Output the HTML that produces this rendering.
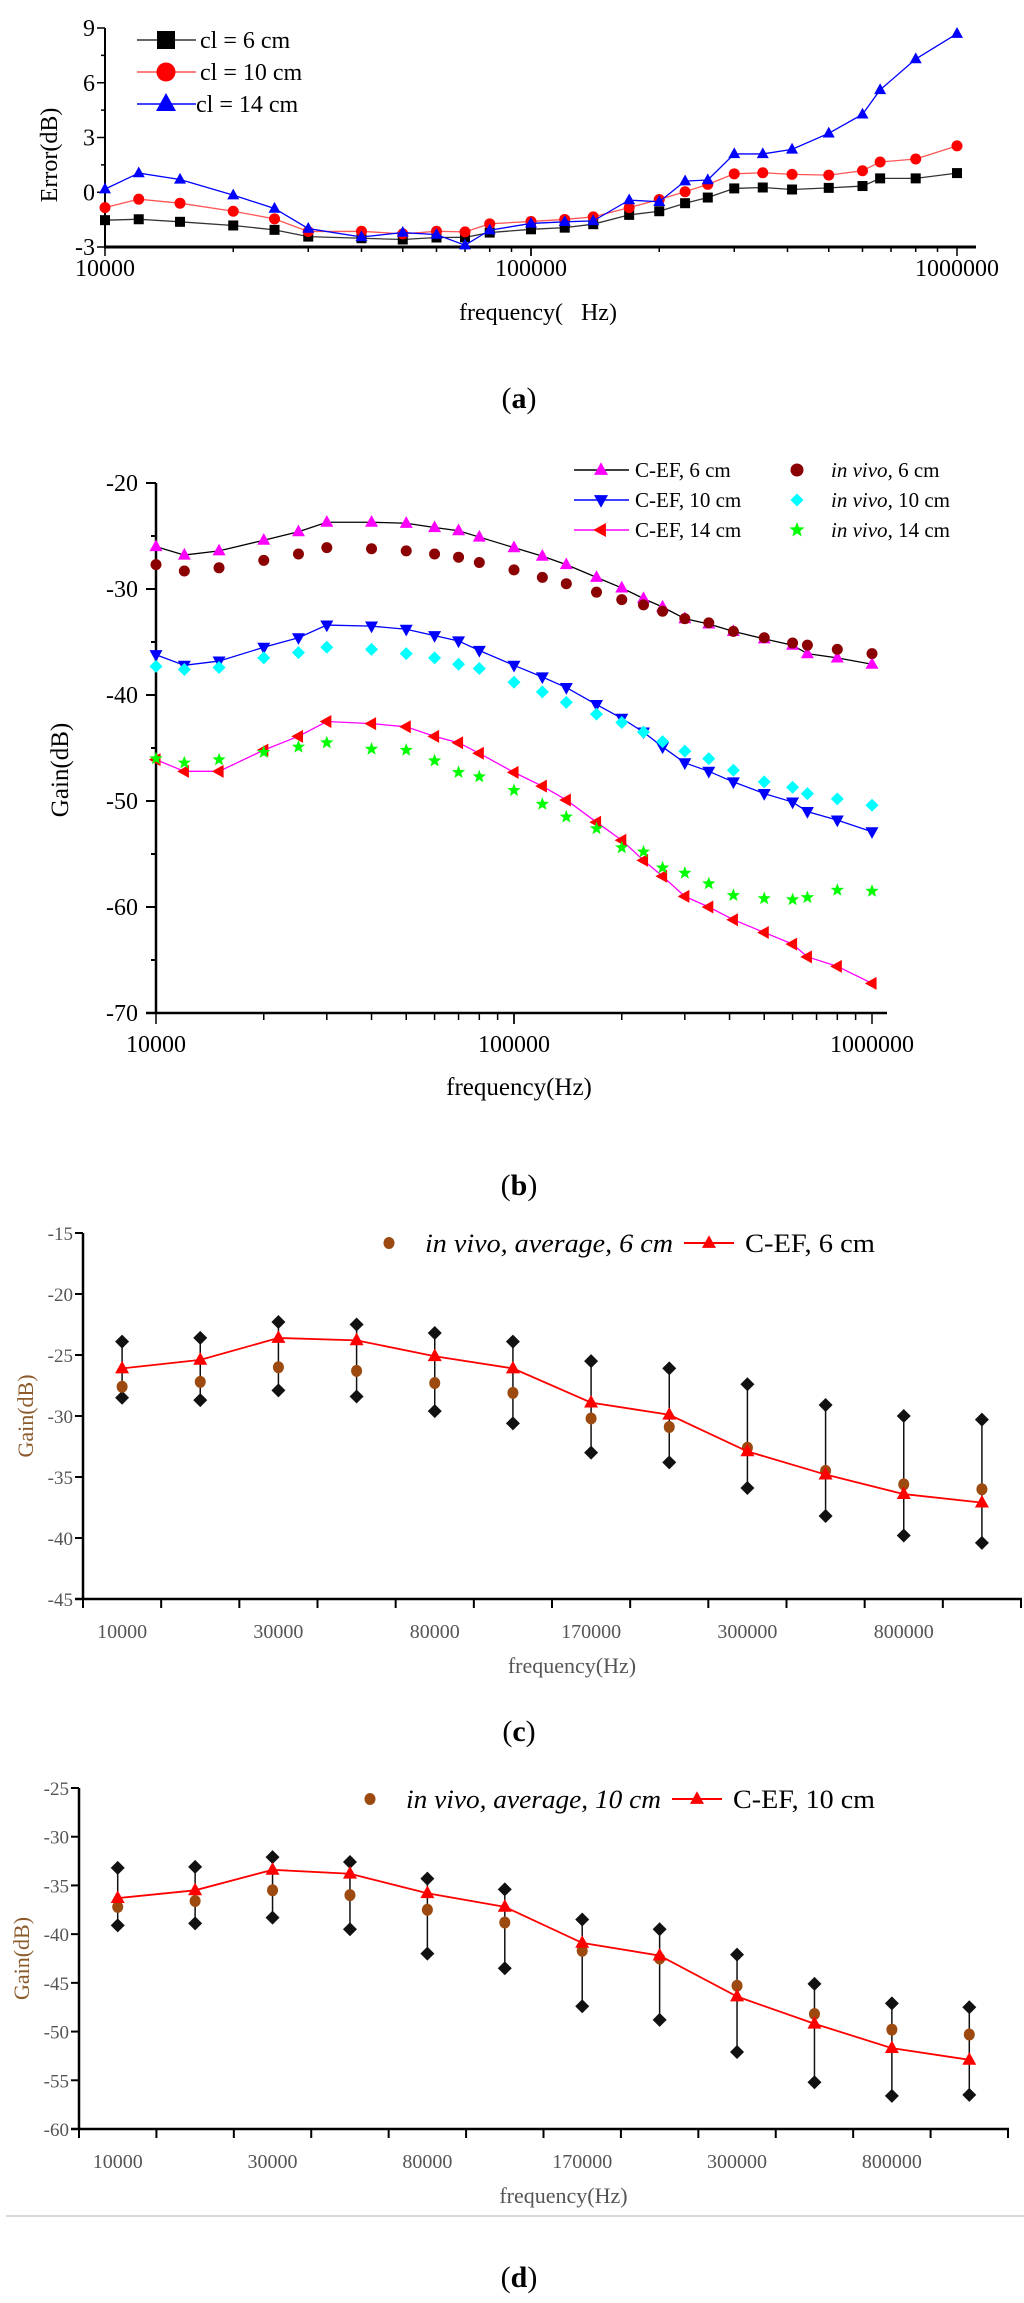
<!DOCTYPE html>
<html><head><meta charset="utf-8">
<style>
html,body{margin:0;padding:0;background:#fff;}
svg{display:block;}
text{font-family:"Liberation Serif",serif;}
</style></head>
<body>
<svg id="fig" xmlns="http://www.w3.org/2000/svg" width="1024" height="2303" viewBox="0 0 1024 2303">
<g id="pa"></g>
<g id="pb"></g>
<g id="pc"></g>
<g id="pd"></g>
<text x="519" y="408" font-size="30" text-anchor="middle">(<tspan font-weight="bold">a</tspan>)</text>
<text x="519" y="1195" font-size="30" text-anchor="middle">(<tspan font-weight="bold">b</tspan>)</text>
<text x="519" y="1741" font-size="30" text-anchor="middle">(<tspan font-weight="bold">c</tspan>)</text>
<text x="519" y="2287" font-size="30" text-anchor="middle">(<tspan font-weight="bold">d</tspan>)</text>
<line x1="6" y1="2216" x2="1024" y2="2216" stroke="#d9d9d9" stroke-width="2"/>
</svg>
<script>
// ---------- data ----------
const freqs = [10000,12000,15000,20000,25000,30000,40000,50000,60000,70000,80000,100000,120000,140000,170000,200000,230000,260000,300000,350000,410000,500000,600000,660000,800000,1000000];
const errCl6 = [-1.53,-1.48,-1.62,-1.82,-2.06,-2.43,-2.52,-2.59,-2.48,-2.47,-2.21,-2.03,-1.94,-1.75,-1.24,-1.04,-0.60,-0.29,0.21,0.26,0.15,0.24,0.34,0.76,0.76,1.05];
const errCl10 = [-0.84,-0.38,-0.60,-1.04,-1.46,-2.15,-2.14,-2.28,-2.14,-2.17,-1.73,-1.60,-1.49,-1.35,-0.84,-0.40,0.03,0.43,1.01,1.07,0.98,0.94,1.18,1.66,1.82,2.54];
const errCl14 = [0.17,1.05,0.70,-0.16,-0.89,-1.99,-2.45,-2.21,-2.32,-2.90,-2.08,-1.71,-1.62,-1.57,-0.43,-0.52,0.61,0.67,2.10,2.10,2.35,3.23,4.27,5.61,7.30,8.69];
const aYTicks = [-3,0,3,6,9];
const logTickLabels = ["10000","100000","1000000"];

const cef6 = [-26.0,-26.8,-26.4,-25.4,-24.6,-23.7,-23.7,-23.8,-24.2,-24.5,-25.1,-26.1,-26.9,-27.7,-28.9,-29.9,-30.9,-31.7,-32.8,-33.3,-34.0,-34.7,-35.3,-36.1,-36.5,-37.1];
const vivo6 = [-27.7,-28.3,-28.0,-27.3,-26.7,-26.1,-26.2,-26.4,-26.7,-27.0,-27.5,-28.2,-28.9,-29.5,-30.3,-31.0,-31.5,-32.1,-32.8,-33.2,-34.0,-34.6,-35.1,-35.3,-35.7,-36.1];
const cef10 = [-36.2,-37.2,-36.8,-35.5,-34.6,-33.4,-33.5,-33.8,-34.4,-34.9,-35.8,-37.2,-38.3,-39.3,-40.9,-42.2,-43.5,-44.9,-46.4,-47.2,-48.2,-49.3,-50.1,-51.0,-51.8,-52.9];
const vivo10 = [-37.3,-37.6,-37.4,-36.5,-36.0,-35.5,-35.7,-36.1,-36.5,-37.1,-37.5,-38.8,-39.7,-40.7,-41.8,-42.6,-43.5,-44.4,-45.3,-46.0,-47.1,-48.2,-48.7,-49.3,-49.8,-50.4];
const cef14 = [-46.1,-47.2,-47.2,-45.2,-43.9,-42.5,-42.7,-43.0,-43.9,-44.5,-45.5,-47.3,-48.6,-49.9,-52.0,-53.7,-55.6,-57.1,-59.0,-60.0,-61.2,-62.4,-63.5,-64.7,-65.6,-67.2];
const vivo14 = [-46.0,-46.4,-46.1,-45.4,-44.9,-44.5,-45.1,-45.2,-46.2,-47.3,-47.7,-49.0,-50.3,-51.5,-52.6,-54.4,-54.8,-56.3,-56.8,-57.8,-58.9,-59.2,-59.3,-59.1,-58.4,-58.5];
const bYTicks = [-70,-60,-50,-40,-30,-20];

const catLabels = ["10000","20000","30000","50000","80000","100000","170000","200000","300000","500000","800000","1000000"];
const cCef = [-26.1,-25.4,-23.6,-23.8,-25.1,-26.1,-28.9,-29.9,-32.9,-34.8,-36.4,-37.1];
const cVivo = [-27.6,-27.2,-26.0,-26.3,-27.3,-28.1,-30.2,-30.9,-32.6,-34.5,-35.6,-36.0];
const cUpper = [-23.9,-23.6,-22.3,-22.5,-23.2,-23.9,-25.5,-26.1,-27.4,-29.1,-30.0,-30.3];
const cLower = [-28.5,-28.7,-27.9,-28.4,-29.6,-30.6,-33.0,-33.8,-35.9,-38.2,-39.8,-40.4];
const cYTicks = [-45,-40,-35,-30,-25,-20,-15];

const dCef = [-36.3,-35.5,-33.4,-33.8,-35.8,-37.2,-40.9,-42.2,-46.4,-49.2,-51.7,-52.9];
const dVivo = [-37.2,-36.6,-35.5,-36.0,-37.5,-38.8,-41.7,-42.5,-45.3,-48.2,-49.8,-50.3];
const dUpper = [-33.2,-33.1,-32.1,-32.6,-34.3,-35.4,-38.5,-39.5,-42.1,-45.1,-47.1,-47.5];
const dLower = [-39.1,-38.9,-38.3,-39.5,-42.0,-43.5,-47.4,-48.8,-52.1,-55.2,-56.6,-56.5];
const dYTicks = [-60,-55,-50,-45,-40,-35,-30,-25];

// ---------- helpers ----------
const NS = "http://www.w3.org/2000/svg";
function mk(tag, attrs, parent){ const e=document.createElementNS(NS,tag); for(const k in attrs) e.setAttribute(k,attrs[k]); parent.appendChild(e); return e; }
function txt(s, attrs, parent){ const e=mk("text",attrs,parent); e.textContent=s; return e; }
function marker(shape, x, y, s, fill, parent){
  let d;
  if(shape==="square") d=`M${x-s},${y-s}h${2*s}v${2*s}h${-2*s}Z`;
  else if(shape==="up") d=`M${x},${y-s*1.1}L${x+s},${y+s*0.7}L${x-s},${y+s*0.7}Z`;
  else if(shape==="down") d=`M${x},${y+s*1.1}L${x+s},${y-s*0.7}L${x-s},${y-s*0.7}Z`;
  else if(shape==="left") d=`M${x-s*1.1},${y}L${x+s*0.7},${y-s}L${x+s*0.7},${y+s}Z`;
  else if(shape==="diamond") d=`M${x},${y-s}L${x+s},${y}L${x},${y+s}L${x-s},${y}Z`;
  else if(shape==="star"){ d=""; for(let i=0;i<10;i++){ const r=i%2?s*0.42:s; const a=-Math.PI/2+i*Math.PI/5; d+=(i?"L":"M")+(x+r*Math.cos(a)).toFixed(1)+","+(y+r*Math.sin(a)).toFixed(1);} d+="Z"; }
  if(shape==="circle") return mk("ellipse",{cx:x,cy:y,rx:s,ry:s,fill:fill},parent);
  return mk("path",{d:d,fill:fill},parent);
}
function poly(xs, ys, stroke, w, parent){ return mk("polyline",{points:xs.map((x,i)=>x+","+ys[i]).join(" "),fill:"none",stroke:stroke,"stroke-width":w},parent); }
const L = Math.log10;

// ---------- panel a ----------
(function(){
  const g=document.getElementById("pa");
  const xa=f=>105+(L(f)-4)*426, ya=v=>247-(v+3)*18.25;
  let e=mk("line",{x1:105,y1:28,x2:105,y2:247,stroke:"#000","stroke-width":2},g);
  
  
  e=mk("line",{x1:104,y1:247,x2:976,y2:247,stroke:"#000","stroke-width":3},g);
  
  
  for(let v=-3;v<=9;v+=1.5){ mk("line",{x1:v%3===0?97:101,y1:ya(v),x2:105,y2:ya(v),stroke:"#000","stroke-width":1.5},g); }
  aYTicks.forEach(v=>{ const t=txt(String(v),{x:95,y:ya(v)+8,"font-size":24,"text-anchor":"end"},g);
    
     });
  for(let dec=4;dec<6;dec++) for(let m=1;m<=10;m++){ const x=xa(m*Math.pow(10,dec)); mk("line",{x1:x,y1:247,x2:x,y2:m===1||m===10?256:252,stroke:"#000","stroke-width":1.5},g); }
  logTickLabels.forEach(s=>{ const t=txt(s,{x:xa(+s),y:276,"font-size":24,"text-anchor":"middle"},g);
    
     });
  e=txt("frequency(   Hz)",{x:538,y:320,"font-size":24,"text-anchor":"middle",style:"white-space:pre"},g);
  
  
  e=txt("Error(dB)",{x:0,y:0,"font-size":24,"text-anchor":"middle",transform:"translate(57,155) rotate(-90)"},g);
  
  
  const series=[[errCl6,"#000","#333","square",6,"cl = 6 cm"],[errCl10,"#ff0000","#ff5555","circle",6.5,"cl = 10 cm"],[errCl14,"#0000ff","#0000ff","up",7,"cl = 14 cm"]];
  series.forEach((s,k)=>{
    const ln=poly(freqs.map(xa),s[0].map(ya),s[2],1.3,g);
    
    
    s[0].forEach((v,i)=>{ const m=marker(s[3],xa(freqs[i]),ya(v),s[3]==="up"?6:s[4]-1,s[1],g);
      
       });
    const ly=40+k*32;
    const ll=mk("line",{x1:137,y1:ly,x2:196,y2:ly,stroke:s[2],"stroke-width":1.5},g);
    
    
    const lm=marker(s[3],166,ly,s[3]==="up"?10:s[4]+3,s[1],g);
    
    
    const lt=txt(s[5],{x:k===2?196:200,y:ly+8,"font-size":24},g);
    
    
  });
})();

// ---------- panel b ----------
(function(){
  const g=document.getElementById("pb");
  const xb=f=>156+(L(f)-4)*358, yb=v=>483-(v+20)*10.6;
  let e=mk("line",{x1:156,y1:483,x2:156,y2:1013,stroke:"#000","stroke-width":2.5},g);
  
  
  e=mk("line",{x1:146,y1:1013,x2:887,y2:1013,stroke:"#000","stroke-width":2.5},g);
  
  
  for(let v=-70;v<=-20;v+=5){ mk("line",{x1:v%10===0?146:151,y1:yb(v),x2:156,y2:yb(v),stroke:"#000","stroke-width":2},g); }
  bYTicks.forEach(v=>{ const t=txt(String(v),{x:138,y:yb(v)+8,"font-size":24,"text-anchor":"end"},g);
    
     });
  for(let dec=4;dec<6;dec++) for(let m=1;m<=10;m++){ const x=xb(m*Math.pow(10,dec)); mk("line",{x1:x,y1:1013,x2:x,y2:m===1||m===10?1024:1020,stroke:"#000","stroke-width":1.5},g); }
  logTickLabels.forEach(s=>{ const t=txt(s,{x:xb(+s),y:1052,"font-size":24,"text-anchor":"middle"},g);
    
     });
  e=txt("frequency(Hz)",{x:519,y:1095,"font-size":25,"text-anchor":"middle"},g);
  
  
  e=txt("Gain(dB)",{x:0,y:0,"font-size":25,"text-anchor":"middle",transform:"translate(68,770) rotate(-90)"},g);
  
  
  const lines=[[cef6,"#000","#ff00ff","up","C-EF, 6 cm"],[cef10,"#0000ff","#0000ff","down","C-EF, 10 cm"],[cef14,"#ff00ff","#ff0000","left","C-EF, 14 cm"]];
  const dots=[[vivo6,"#8b0000","circle","6 cm"],[vivo10,"#00ffff","diamond","10 cm"],[vivo14,"#00ff00","star","14 cm"]];
  lines.forEach((s,k)=>{
    const ln=poly(freqs.map(xb),s[0].map(yb),s[1],1.3,g);
    
    
    s[0].forEach((v,i)=>{ const m=marker(s[3],xb(freqs[i]),yb(v),6.5,s[2],g);
      
       });
    const ly=470+k*30;
    const ll=mk("line",{x1:574,y1:ly,x2:629,y2:ly,stroke:s[1],"stroke-width":1.5},g);
    
    
    const lm=marker(s[3],601,ly,7,s[2],g);
    
    
    const lt=txt(s[4],{x:635,y:ly+7,"font-size":21},g);
    
    
  });
  dots.forEach((s,k)=>{
    s[0].forEach((v,i)=>{ const m=marker(s[2],xb(freqs[i]),yb(v),s[2]==="star"?7:s[2]==="diamond"?6.5:5.5,s[1],g);
      
       });
    const ly=470+k*30;
    const lm=marker(s[2],797,ly,s[2]==="star"?8:6.5,s[1],g);
    
    
    const lt=txt("",{x:831,y:ly+7,"font-size":21},g);
    lt.innerHTML='<tspan font-style="italic">in vivo</tspan>, '+s[3];
    
    
  });
})();

// ---------- panels c and d ----------
function catPanel(id, x0, x1, yTop, yBot, vTop, vBot, ticks, cef, vivo, up, lo, legX, legY, vivoText, cefText, vivoLen, cefLen){
  const g=document.getElementById(id);
  const n=catLabels.length, step=(x1-x0)/n;
  const xc=i=>x0+step*(i+0.5), yc=v=>yTop+(vTop-v)*(yBot-yTop)/(vTop-vBot);
  let e=mk("line",{x1:x0,y1:yTop,x2:x0,y2:yBot,stroke:"#000","stroke-width":2.5},g);
  
  
  e=mk("line",{x1:x0-8,y1:yBot,x2:x1+1,y2:yBot,stroke:"#000","stroke-width":2.5},g);
  
  
  ticks.forEach(v=>{ mk("line",{x1:x0-8,y1:yc(v),x2:x0,y2:yc(v),stroke:"#000","stroke-width":2},g);
    const t=txt(String(v),{x:x0-10,y:yc(v)+7,"font-size":19,"text-anchor":"end",fill:"#555"},g);
    
     });
  for(let i=0;i<=n;i++){ mk("line",{x1:x0+step*i,y1:yBot,x2:x0+step*i,y2:yBot+9,stroke:"#000","stroke-width":2},g); }
  catLabels.forEach((s,i)=>{ if(i%2) return; const t=txt(s,{x:xc(i),y:yBot+39,"font-size":20,"text-anchor":"middle",fill:"#555"},g);
    
     });
  e=txt("frequency(Hz)",{x:(x0+x1)/2+20,y:yBot+74,"font-size":22,"text-anchor":"middle",fill:"#555"},g);
  
  
  e=txt("Gain(dB)",{x:0,y:0,"font-size":22,"text-anchor":"middle",fill:"#8b5a2b",transform:`translate(${x0-50},${(yTop+yBot)/2}) rotate(-90)`},g);
  
  
  up.forEach((v,i)=>{
    const b=mk("line",{x1:xc(i),y1:yc(v),x2:xc(i),y2:yc(lo[i]),stroke:"#111","stroke-width":1.5},g);
    
    
    const m1=marker("diamond",xc(i),yc(v),7,"#111",g);
    
    
    const m2=marker("diamond",xc(i),yc(lo[i]),7,"#111",g);
    
    
  });
  vivo.forEach((v,i)=>{ const m=mk("ellipse",{cx:xc(i),cy:yc(v),rx:5.5,ry:6,fill:"#9c4a10"},g);
    
     });
  const ln=poly(cef.map((v,i)=>xc(i)),cef.map(yc),"#ff0000",1.8,g);
  
  
  cef.forEach((v,i)=>{ const m=marker("up",xc(i),yc(v),7,"#ff0000",g);
    
     });
  const lm=mk("ellipse",{cx:legX,cy:legY,rx:5.5,ry:6,fill:"#9c4a10"},g);
  
  
  const lt=txt(vivoText,{x:legX+36,y:legY+9,"font-size":26,"font-style":"italic",textLength:vivoLen,lengthAdjust:"spacingAndGlyphs"},g);
  
  
  const lx=legX+36+vivoLen+11;
  const ll=mk("line",{x1:lx,y1:legY,x2:lx+50,y2:legY,stroke:"#ff0000","stroke-width":2},g);
  
  
  const lm2=marker("up",lx+25,legY,7,"#ff0000",g);
  
  
  const lt2=txt(cefText,{x:lx+61,y:legY+9,"font-size":26,textLength:cefLen,lengthAdjust:"spacingAndGlyphs"},g);
  
  
}
catPanel("pc",83,1021,1233,1599,-15,-45,cYTicks,cCef,cVivo,cUpper,cLower,389,1243,"in vivo, average, 6 cm","C-EF, 6 cm",248,130);
catPanel("pd",79,1008,1788,2129,-25,-60,dYTicks,dCef,dVivo,dUpper,dLower,370,1799,"in vivo, average, 10 cm","C-EF, 10 cm",255,142);
</script>
</body></html>
